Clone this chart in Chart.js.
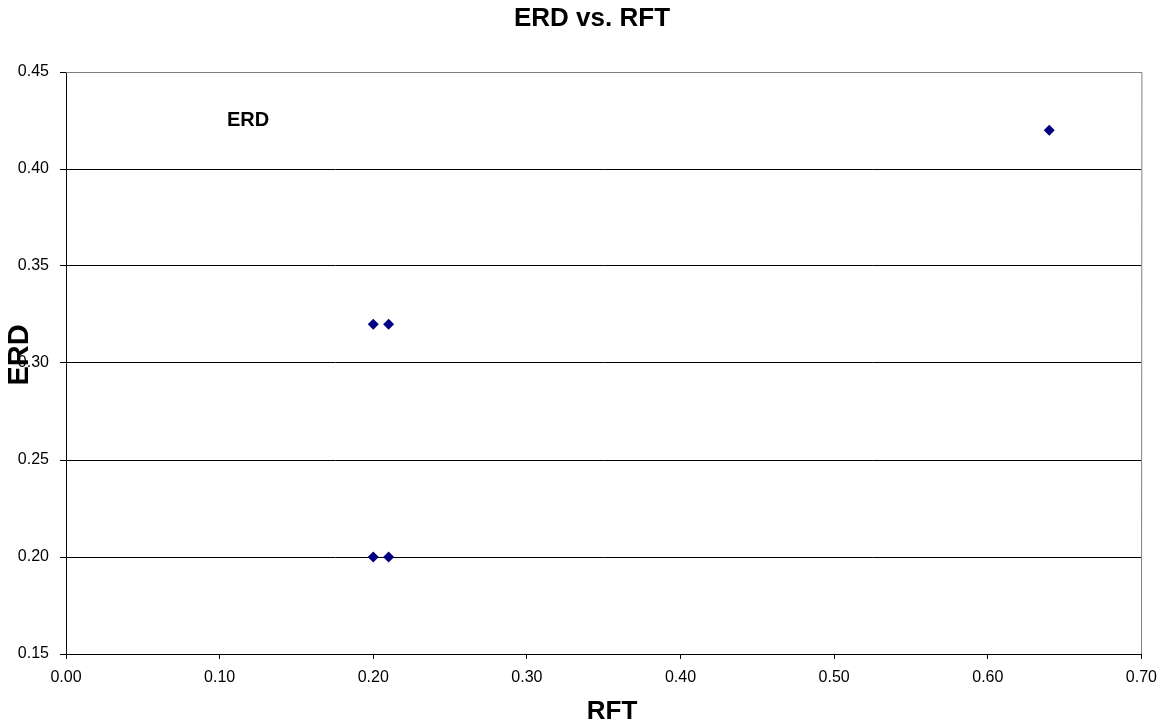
<!DOCTYPE html>
<html><head><meta charset="utf-8">
<script src="https://cdn.jsdelivr.net/npm/chart.js@4/dist/chart.umd.min.js"></script>
<style>html,body{margin:0;padding:0;background:#fff}#w{width:1166px;height:727px}</style>
</head><body><div id="w"><canvas id="c" width="1166" height="727"></canvas></div>
<script>
const rftValues = [0.20, 0.21, 0.20, 0.21, 0.64];
const erdValues = [0.32, 0.32, 0.20, 0.20, 0.42];
const seriesName = 'ERD';
const chartTitle = 'ERD vs. RFT';
const xTitle = 'RFT';
const yTitle = 'ERD';

const points = rftValues.map((x, i) => ({x: x, y: erdValues[i]}));
const FF = '"Liberation Sans", Arial, sans-serif';

const overlay = {
  id: 'overlay',
  afterDraw(chart) {
    const {ctx, chartArea: a} = chart;
    ctx.save();
    ctx.strokeStyle = '#808080';
    ctx.lineWidth = 1;
    ctx.beginPath();
    ctx.moveTo(a.left, Math.round(a.top) + 0.5);
    ctx.lineTo(a.right + 0.5, Math.round(a.top) + 0.5);
    ctx.lineTo(Math.round(a.right) + 0.5, a.bottom);
    ctx.stroke();
    ctx.fillStyle = '#000';
    ctx.textBaseline = 'middle';
    ctx.textAlign = 'left';
    ctx.font = 'bold 20px ' + FF;
    ctx.fillText(seriesName, 227, 120);
    ctx.textAlign = 'center';
    ctx.font = 'bold 26px ' + FF;
    ctx.fillText(chartTitle, 592, 19);
    ctx.fillText(xTitle, 612, 712);
    ctx.translate(19, 355);
    ctx.rotate(-Math.PI / 2);
    ctx.font = 'bold 29px ' + FF;
    ctx.fillText(yTitle, 0, 1);
    ctx.restore();
  }
};

new Chart(document.getElementById('c'), {
  type: 'scatter',
  data: { datasets: [{ label: seriesName, data: points, pointStyle: 'rectRot', pointRadius: 5.5, pointHoverRadius: 5.5, backgroundColor: '#000080', borderColor: '#000080', borderWidth: 0 }] },
  options: {
    responsive: false, animation: false,
    layout: { padding: { left: 0, right: 24, top: 72, bottom: 0 } },
    plugins: { legend: { display: false }, tooltip: { enabled: false }, title: { display: false } },
    scales: {
      x: {
        type: 'linear', min: 0, max: 0.7,
        ticks: { stepSize: 0.1, color: '#000', font: { family: FF, size: 16 }, padding: 9, maxRotation: 0, callback: v => Number(v).toFixed(2) },
        grid: { drawOnChartArea: false, color: '#000', tickLength: 5 },
        border: { color: '#000', width: 1 },
        afterFit(s) { s.height = 73; }
      },
      y: {
        type: 'linear', min: 0.15, max: 0.45,
        ticks: { stepSize: 0.05, color: '#000', font: { family: FF, size: 16 }, padding: 11, callback: v => Number(v).toFixed(2) },
        grid: { color: '#000', tickLength: 6 },
        border: { color: '#000', width: 1 },
        afterFit(s) { s.width = 66; }
      }
    }
  },
  plugins: [overlay]
});
</script></body></html>
